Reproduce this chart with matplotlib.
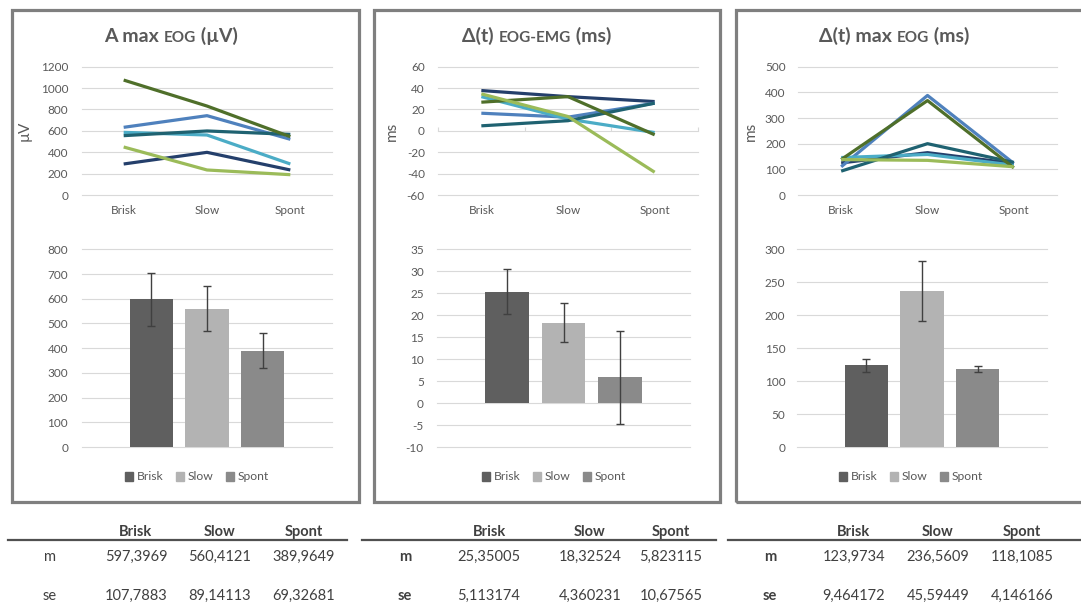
import matplotlib
matplotlib.use("Agg")
import matplotlib.pyplot as plt
from matplotlib.patches import Rectangle
from matplotlib.lines import Line2D

plt.rcParams["font.family"] = ["Lato", "DejaVu Sans"]
plt.rcParams["axes.unicode_minus"] = False

# ---------------------------------------------------------------- data
conditions = ["Brisk", "Slow", "Spont"]

# per-subject traces: maximum EOG amplitude (µV)
amp_s1 = [290, 399, 234]
amp_s2 = [633, 742, 521]
amp_s3 = [586, 561, 290]
amp_s4 = [555, 599, 567]
amp_s5 = [1075, 832, 545]
amp_s6 = [449, 234, 190]

# per-subject traces: EOG-EMG delay (ms)
lag_s1 = [37.7, 32.0, 27.4]
lag_s2 = [16.5, 12.8, 25.9]
lag_s3 = [32.0, 11.0, -1.6]
lag_s4 = [4.7, 9.5, 25.9]
lag_s5 = [26.8, 32.0, -3.7]
lag_s6 = [34.6, 13.4, -38.7]

# per-subject traces: time to EOG maximum (ms)
tmax_s1 = [125, 165, 123]
tmax_s2 = [110, 388, 123]
tmax_s3 = [146, 158, 116]
tmax_s4 = [93, 200, 127]
tmax_s5 = [138, 368, 106]
tmax_s6 = [138, 135, 110]

# group means and standard errors
amp_mean = [597.3969, 560.4121, 389.9649]
amp_se = [107.7883, 89.14113, 69.32681]
lag_mean = [25.35005, 18.32524, 5.823115]
lag_se = [5.113174, 4.360231, 10.67565]
tmax_mean = [123.9734, 236.5609, 118.1085]
tmax_se = [9.464172, 45.59449, 4.146166]

amp_ticks = [0, 200, 400, 600, 800, 1000, 1200]
lag_ticks = [-60, -40, -20, 0, 20, 40, 60]
tmax_ticks = [0, 100, 200, 300, 400, 500]
amp_bar_ticks = [0, 100, 200, 300, 400, 500, 600, 700, 800]
lag_bar_ticks = [-10, -5, 0, 5, 10, 15, 20, 25, 30, 35]
tmax_bar_ticks = [0, 50, 100, 150, 200, 250, 300]

# ---------------------------------------------------------------- style
W, H = 1081, 608
GRID = "#d9d9d9"
TXT = "#595959"
TABLE_TXT = "#404040"
subject_colors = ["#243f6b", "#4f81bd", "#4bacc6", "#1f6271", "#4f6f2a", "#9bbb59"]
bar_colors = ["#5f5f5f", "#b3b3b3", "#8a8a8a"]

fig = plt.figure(figsize=(W / 100, H / 100), dpi=100)
fig.patch.set_facecolor("white")


def fx(px):
    return px / W


def fy(py):
    return 1 - py / H


def add_px_axes(x0, x1, ytop, ybot):
    return fig.add_axes([fx(x0), fy(ybot), (x1 - x0) / W, (ybot - ytop) / H])


# panel frames
for x0, x1 in [(11.5, 359), (374, 720), (736, 1100)]:
    fig.add_artist(Rectangle((fx(x0), fy(501.5)), (x1 - x0) / W, (501.5 - 10) / H,
                             transform=fig.transFigure, fill=False,
                             ec="#7f7f7f", lw=2.3, zorder=0))


def base_style(ax, ticks, pad):
    ax.set_ylim(ticks[0], ticks[-1])
    ax.set_yticks(ticks)
    ax.grid(axis="y", color=GRID, lw=0.8)
    ax.set_axisbelow(True)
    for s in ax.spines.values():
        s.set_visible(False)
    ax.tick_params(axis="y", length=0, labelsize=8.5, labelcolor=TXT, pad=pad)
    for gl in ax.get_ygridlines():
        gl.set_clip_on(False)


def line_panel(ax, traces, ticks, pad):
    base_style(ax, ticks, pad)
    x = range(len(conditions))
    for tr, c in zip(traces, subject_colors):
        ax.plot(x, tr, color=c, lw=2.3, solid_joinstyle="round",
                solid_capstyle="butt", zorder=3)
    ax.set_xlim(-0.5, 2.5)
    ax.set_xticks(list(x))
    ax.set_xticklabels(conditions)
    ax.tick_params(axis="x", length=0, labelsize=8.5, labelcolor=TXT, pad=7)


def bar_panel(ax, means, se, ticks, pad):
    base_style(ax, ticks, pad)
    x = list(range(len(conditions)))
    ax.bar(x, means, width=0.775, color=bar_colors, zorder=3)
    ax.errorbar(x, means, yerr=se, fmt="none", ecolor="#404040",
                elinewidth=1.0, capsize=3, capthick=1.0, zorder=4)
    ax.set_xlim(-1.25, 3.25)
    ax.set_xticks([])


# line charts
ax1 = add_px_axes(82, 332, 66.7, 195)
line_panel(ax1, [amp_s1, amp_s2, amp_s3, amp_s4, amp_s5, amp_s6], amp_ticks, 10)
ax2 = add_px_axes(438, 698, 66.7, 195)
line_panel(ax2, [lag_s1, lag_s2, lag_s3, lag_s4, lag_s5, lag_s6], lag_ticks, 9.5)
ax3 = add_px_axes(798, 1057, 66.7, 195)
line_panel(ax3, [tmax_s1, tmax_s2, tmax_s3, tmax_s4, tmax_s5, tmax_s6], tmax_ticks, 9)

# horizontal category axis crossing at zero, with boundary ticks
sec = ax2.secondary_xaxis(0.5)
sec.set_xticks([-0.5, 0.5, 1.5, 2.5])
sec.set_xticklabels([])
sec.tick_params(length=3, width=0.8, color=GRID, direction="out")
sec.spines["bottom"].set_color(GRID)
sec.spines["bottom"].set_linewidth(0.8)
for s in ["top", "left", "right"]:
    sec.spines[s].set_visible(False)

# y-axis titles
for x, lab in [(25, "µV"), (392, "ms"), (751, "ms")]:
    fig.text(fx(x), fy(131), lab, rotation=90, ha="center", va="center",
             fontsize=11, color=TXT)

# bar charts
bx1 = add_px_axes(82, 332, 249.3, 447)
bar_panel(bx1, amp_mean, amp_se, amp_bar_ticks, 10)
bx2 = add_px_axes(437, 690, 249.3, 447)
bar_panel(bx2, lag_mean, lag_se, lag_bar_ticks, 9.5)
bx3 = add_px_axes(797, 1047, 249.3, 447)
bar_panel(bx3, tmax_mean, tmax_se, tmax_bar_ticks, 8.5)

handles = [Rectangle((0, 0), 1, 1, color=c) for c in bar_colors]
for cx in (197, 554, 911):
    fig.legend(handles, conditions, loc="center", bbox_to_anchor=(fx(cx), fy(477)),
               ncol=3, frameon=False, fontsize=8.7, handlelength=0.7,
               handleheight=0.7, handletextpad=0.3, columnspacing=1.0,
               labelcolor=TXT, borderaxespad=0, borderpad=0)

# panel titles with small-caps signal names
fig.canvas.draw()
renderer = fig.canvas.get_renderer()


def mixed_title(cx, base_py, parts):
    texts = []
    for s, size in parts:
        t = fig.text(0, fy(base_py), s, fontsize=size, fontweight="bold",
                     color=TXT, ha="left", va="baseline")
        texts.append(t)
    widths = [t.get_window_extent(renderer).width for t in texts]
    x = cx - sum(widths) / 2
    for t, w in zip(texts, widths):
        t.set_x(fx(x))
        x += w


BIG, SMALL = 14, 11
mixed_title(171, 41.5, [("A max ", BIG), ("EOG", SMALL), (" (µV)", BIG)])
mixed_title(537, 41.5, [("Δ(t) ", BIG), ("EOG-EMG", SMALL), (" (ms)", BIG)])
mixed_title(894, 41.5, [("Δ(t) max ", BIG), ("EOG", SMALL), (" (ms)", BIG)])

# summary tables
def fmt(v):
    return repr(v).replace(".", ",")


tables = [
    (8, 347, 50, [136, 220, 304], amp_mean, amp_se, "normal"),
    (362, 716, 405, [489, 590, 671], lag_mean, lag_se, "bold"),
    (728, 1085, 770, [854, 938, 1022], tmax_mean, tmax_se, "bold"),
]
for x0, x1, lx, cols, means, ses, lw in tables:
    fig.add_artist(Line2D([fx(x0), fx(x1)], [fy(540), fy(540)],
                          transform=fig.transFigure, color="#505050", lw=1.6))
    for cx, name, m, s in zip(cols, conditions, means, ses):
        fig.text(fx(cx), fy(532), name, ha="center", va="center", fontsize=10.5,
                 fontweight="bold", color=TABLE_TXT)
        fig.text(fx(cx), fy(557), fmt(m), ha="center", va="center",
                 fontsize=10.5, color=TABLE_TXT)
        fig.text(fx(cx), fy(596), fmt(s), ha="center", va="center",
                 fontsize=10.5, color=TABLE_TXT)
    fig.text(fx(lx), fy(557), "m", ha="center", va="center", fontsize=10.5,
             fontweight=lw, color=TABLE_TXT)
    fig.text(fx(lx), fy(596), "se", ha="center", va="center", fontsize=10.5,
             fontweight=lw, color=TABLE_TXT)

fig.savefig("out.png", dpi=100, facecolor="white")
